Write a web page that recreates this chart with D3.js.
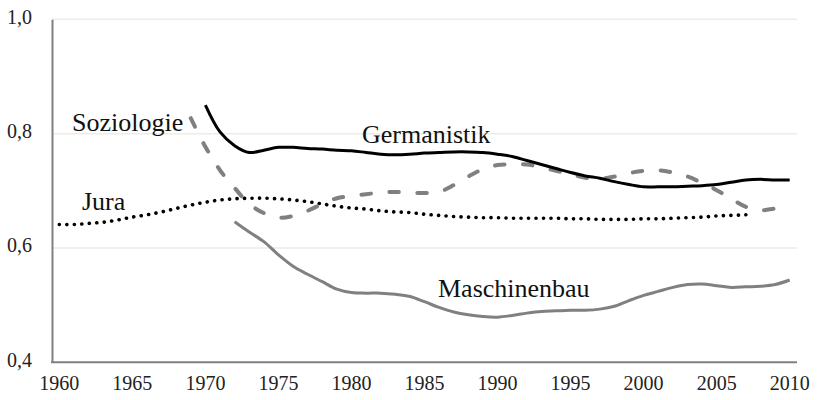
<!DOCTYPE html>
<html>
<head>
<meta charset="utf-8">
<script src="https://cdn.jsdelivr.net/npm/d3@7"></script>
<style>
  html, body { margin: 0; padding: 0; background: #fff; }
  #chart text { font-family: "Liberation Serif", "Times New Roman", "DejaVu Serif", serif !important; }
</style>
</head>
<body>
<svg id="chart" width="818" height="400"></svg>
<script>
const years = [1960,1961,1962,1963,1964,1965,1966,1967,1968,1969,
  1970,1971,1972,1973,1974,1975,1976,1977,1978,1979,
  1980,1981,1982,1983,1984,1985,1986,1987,1988,1989,
  1990,1991,1992,1993,1994,1995,1996,1997,1998,1999,
  2000,2001,2002,2003,2004,2005,2006,2007,2008,2009,2010];
const xTickLabels = [1960,1965,1970,1975,1980,1985,1990,1995,2000,2005,2010];
const yTickValues = [0.4, 0.6, 0.8, 1.0];

const germanistikStart = 1970;
const germanistik = [0.850,0.803,0.779,0.767,0.771,0.776,0.776,0.774,0.773,0.771,
  0.770,0.767,0.764,0.763,0.764,0.766,0.767,0.768,0.768,0.767,
  0.764,0.760,0.753,0.746,0.739,0.732,0.726,0.722,0.716,0.711,
  0.707,0.707,0.707,0.708,0.709,0.711,0.715,0.719,0.720,0.719,0.719];

const soziologieStart = 1969;
const soziologie = [0.827,0.777,0.736,0.705,0.677,0.661,0.653,0.656,0.665,0.677,
  0.687,0.691,0.694,0.697,0.698,0.697,0.696,0.698,0.710,0.725,
  0.738,0.745,0.746,0.746,0.741,0.735,0.729,0.723,0.721,0.725,
  0.731,0.735,0.736,0.732,0.725,0.714,0.701,0.686,0.672,0.666,0.669];

const juraStart = 1960;
const jura = [0.641,0.641,0.643,0.645,0.649,0.654,0.658,0.663,0.669,0.675,
  0.680,0.684,0.686,0.687,0.687,0.686,0.684,0.681,0.677,0.673,
  0.670,0.668,0.665,0.663,0.662,0.659,0.657,0.655,0.654,0.653,
  0.653,0.652,0.652,0.652,0.652,0.651,0.651,0.650,0.650,0.650,
  0.651,0.651,0.652,0.653,0.654,0.656,0.657,0.658];

const maschinenbauStart = 1972;
const maschinenbau = [0.646,0.628,0.611,0.588,0.568,0.554,0.541,0.528,
  0.522,0.521,0.521,0.519,0.515,0.506,0.496,0.488,0.483,0.480,
  0.479,0.482,0.486,0.489,0.490,0.491,0.491,0.493,0.498,0.508,
  0.517,0.524,0.531,0.536,0.537,0.534,0.531,0.532,0.533,0.536,0.544];

const seriesNames = ["Germanistik", "Soziologie", "Jura", "Maschinenbau"];

(function () {
const svg = d3.select("#chart");
const mLeft = 52, mRight = 797, mTop = 19.3, mBottom = 362.3;
const serif = "'Liberation Serif', 'Times New Roman', 'DejaVu Serif', serif";

const x = d3.scaleBand().domain(years).range([mLeft, mRight]).padding(0);
const xc = yr => x(yr) + x.bandwidth() / 2;
const y = d3.scaleLinear().domain([0.4, 1.0]).range([mBottom, mTop]);

svg.append("g").selectAll("line")
  .data(yTickValues.filter(v => v > 0.4))
  .join("line")
  .attr("x1", mLeft).attr("x2", mRight)
  .attr("y1", d => y(d)).attr("y2", d => y(d))
  .attr("stroke", "#edede3").attr("stroke-width", 1.5);

const fmt = v => d3.format(".1f")(v).replace(".", ",");
const yAxis = svg.append("g")
  .attr("transform", `translate(${mLeft},0)`)
  .call(d3.axisLeft(y).tickValues(yTickValues).tickFormat(fmt).tickSize(0).tickPadding(20));
yAxis.attr("font-family", null);
yAxis.select(".domain").attr("stroke", "#808080").attr("stroke-width", 2);
yAxis.selectAll("text").style("font-family", serif).style("font-size", "20px")
  .attr("fill", "#222").attr("dy", "0.2em");

const xAxis = svg.append("g")
  .attr("transform", `translate(0,${mBottom})`)
  .call(d3.axisBottom(x).tickValues(xTickLabels).tickSize(0).tickSizeOuter(0).tickPadding(14));
xAxis.attr("font-family", null);
xAxis.select(".domain").attr("stroke", "#808080").attr("stroke-width", 2)
  .attr("d", `M${mLeft - 1},0H${mRight}`);
xAxis.selectAll("text").style("font-family", serif).style("font-size", "20px")
  .attr("fill", "#222");

function toPoints(start, vals) {
  return vals.map((v, i) => ({ yr: start + i, v }));
}
const line = d3.line()
  .x(d => xc(d.yr))
  .y(d => y(d.v))
  .curve(d3.curveCatmullRom.alpha(0.5));

const g = svg.append("g").attr("fill", "none");

g.append("path").attr("d", line(toPoints(maschinenbauStart, maschinenbau)))
  .attr("stroke", "#808080").attr("stroke-width", 3);
g.append("path").attr("d", line(toPoints(juraStart, jura)))
  .attr("stroke", "#000").attr("stroke-width", 3.6)
  .attr("stroke-linecap", "round").attr("stroke-dasharray", "0.1 7.4");
g.append("path").attr("d", line(toPoints(soziologieStart, soziologie)))
  .attr("stroke", "#808080").attr("stroke-width", 4)
  .attr("stroke-linecap", "round").attr("stroke-dasharray", "9.5 18.5");
g.append("path").attr("d", line(toPoints(germanistikStart, germanistik)))
  .attr("stroke", "#000").attr("stroke-width", 3);

const labelPos = [
  { name: seriesNames[1], x: 72, y: 130.5 },
  { name: seriesNames[0], x: 362, y: 143 },
  { name: seriesNames[2], x: 82, y: 210 },
  { name: seriesNames[3], x: 438, y: 297 }
];
svg.append("g").selectAll("text").data(labelPos).join("text")
  .attr("x", d => d.x).attr("y", d => d.y)
  .style("font-family", serif).style("font-size", "26px")
  .attr("fill", "#111")
  .text(d => d.name);
})();
</script>
</body>
</html>
